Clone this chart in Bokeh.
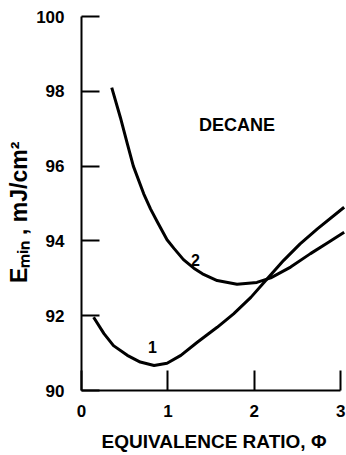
from bokeh.plotting import figure
from bokeh.models import Label, Range1d, FixedTicker
from bokeh.embed import file_html
from bokeh.resources import INLINE

# Minimum ignition energy of decane vs. equivalence ratio, two curves
phi_1 = [0.14, 0.26, 0.37, 0.53, 0.68, 0.84, 0.99, 1.15, 1.34, 1.57,
         1.76, 1.96, 2.15, 2.34, 2.53, 2.73, 3.04]
emin_1 = [91.96, 91.52, 91.20, 90.94, 90.76, 90.67, 90.73, 90.94, 91.29, 91.69,
          92.05, 92.49, 92.99, 93.48, 93.92, 94.32, 94.90]

phi_2 = [0.35, 0.45, 0.53, 0.60, 0.72, 0.80, 0.88, 0.99, 1.07, 1.18,
         1.30, 1.40, 1.57, 1.80, 2.03, 2.19, 2.42, 2.65, 2.85, 3.04]
emin_2 = [98.10, 97.30, 96.60, 96.00, 95.26, 94.85, 94.50, 94.03, 93.80, 93.50,
          93.27, 93.12, 92.94, 92.84, 92.89, 93.01, 93.30, 93.66, 93.95, 94.23]

x_ticks = [0, 1, 2, 3]
y_ticks = [90, 92, 94, 96, 98, 100]

FONT = "Liberation Sans"

p = figure(width=346, height=455, output_backend="svg", toolbar_location=None,
           x_range=Range1d(0, 3.067), y_range=Range1d(90, 100.214),
           min_border_left=81, min_border_right=0, min_border_top=8,
           min_border_bottom=65)
p.outline_line_color = None
p.grid.visible = False
p.background_fill_color = "white"
p.border_fill_color = "white"

for ax, ticks, tick_len in ((p.xaxis, x_ticks, 20), (p.yaxis, y_ticks, 18)):
    ax.ticker = FixedTicker(ticks=ticks)
    ax.bounds = (ticks[0], ticks[-1])
    ax.major_tick_in = tick_len
    ax.major_tick_out = 0
    ax.minor_tick_line_color = None
    ax.axis_line_width = 2
    ax.major_tick_line_width = 2
    ax.axis_line_color = "black"
    ax.major_tick_line_color = "black"
    ax.major_label_text_font = FONT
    ax.major_label_text_font_style = "bold"
    ax.major_label_text_font_size = "17px"
    ax.major_label_text_color = "black"
    ax.axis_label_text_font = FONT
    ax.axis_label_text_font_style = "bold"
    ax.axis_label_text_color = "black"

p.xaxis.major_label_standoff = 14
p.xaxis.axis_label = "EQUIVALENCE RATIO, \u03a6"
p.xaxis.axis_label_text_font_size = "19px"
p.xaxis.axis_label_standoff = 11

# trailing no-break spaces nudge the rotated title down the axis a little
p.yaxis.major_label_standoff = 17
p.yaxis.axis_label = "E\u2098\u1d62\u2099 , mJ/cm\u00b2" + "\u00a0" * 4
p.yaxis.axis_label_text_font_size = "23px"
p.yaxis.axis_label_standoff = 1

p.line(phi_1, emin_1, line_color="black", line_width=3, line_join="round")
p.line(phi_2, emin_2, line_color="black", line_width=3, line_join="round")


def label(x, y, s, size):
    return Label(x=x, y=y, text=s, text_font=FONT, text_font_style="bold",
                 text_font_size=size, text_color="black",
                 text_align="center", text_baseline="middle")


# curve numbers and fuel name
p.add_layout(label(0.82, 91.16, "1", "16px"))
p.add_layout(label(1.32, 93.48, "2", "16px"))
p.add_layout(label(1.80, 97.09, "DECANE", "18px"))

open("out.html", "w").write(file_html(p, INLINE))
